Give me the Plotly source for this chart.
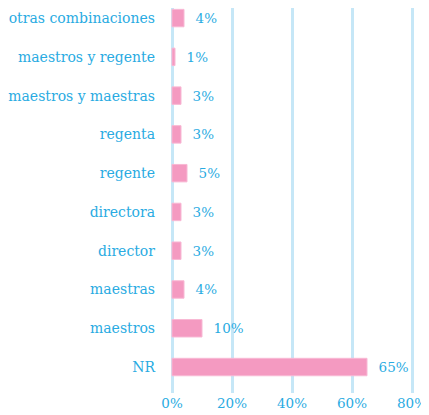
import plotly.graph_objects as go

categories = ["NR", "maestros", "maestras", "director", "directora", "regente",
              "regenta", "maestros y maestras", "maestros y regente", "otras combinaciones"]
values = [65, 10, 4, 3, 3, 5, 3, 3, 1, 4]
labels = ["65%", "10%", "4%", "3%", "3%", "5%", "3%", "3%", "1%", "4%"]
xticks = [0, 20, 40, 60, 80]
xtick_labels = ["0%", "20%", "40%", "60%", "80%"]

TEXT = "#29abe2"
FONT = "DejaVu Serif"

fig = go.Figure(go.Bar(
    y=categories, x=values, orientation="h",
    marker=dict(color="#f49ac1", line=dict(color="#f8b8d4", width=1)),
    width=0.45,
    text=["\u00a0\u00a0" + t for t in labels],
    textposition="outside",
    textfont=dict(family=FONT, size=13.5, color=TEXT),
    cliponaxis=False,
))

fig.update_layout(
    width=421, height=407,
    margin=dict(l=161, r=14, t=0, b=22),
    paper_bgcolor="white", plot_bgcolor="white",
    showlegend=False,
    font=dict(family=FONT, color=TEXT),
    xaxis=dict(range=[-1, 81], tickvals=xticks, ticktext=xtick_labels,
               showgrid=True, gridcolor="#c6e7f7", gridwidth=3,
               zeroline=False, showline=False, ticks="",
               tickfont=dict(family=FONT, size=13.5, color=TEXT),
               automargin=False, fixedrange=True),
    yaxis=dict(range=[-0.67, 9.26], showgrid=False, zeroline=False,
               showline=False, ticks="", ticklabelstandoff=13,
               tickfont=dict(family=FONT, size=14, color=TEXT),
               automargin=False, fixedrange=True),
)

fig.write_html("out.html")
